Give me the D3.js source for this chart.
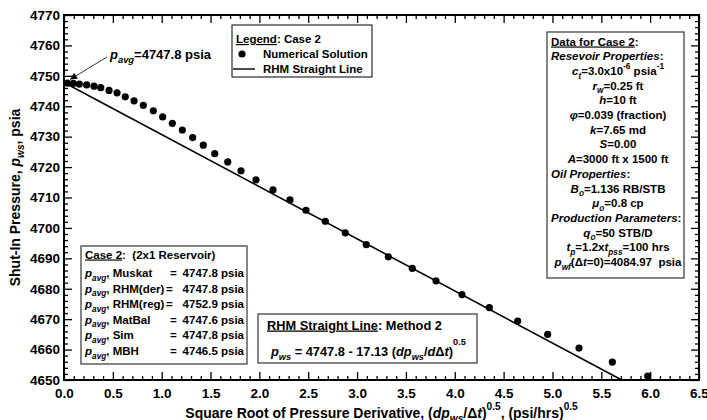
<!DOCTYPE html>
<html>
<head>
<meta charset="utf-8">
<script src="https://cdn.jsdelivr.net/npm/d3@7"></script>
<style>
  html, body { margin: 0; padding: 0; background: #fff; }
  svg { display: block; font-family: "Liberation Sans", Arial, Helvetica, sans-serif; font-weight: bold; }
</style>
</head>
<body>
<svg id="chart" width="707" height="420"></svg>
<script>
// Numerical solution: square root of pressure derivative vs shut-in pressure
const rootDerivative = [0.034, 0.095, 0.157, 0.232, 0.307, 0.376, 0.461, 0.543, 0.627, 0.717,
  0.812, 0.914, 1.010, 1.109, 1.211, 1.317, 1.426, 1.543, 1.676, 1.812, 1.965, 2.139, 2.313,
  2.477, 2.675, 2.879, 3.094, 3.320, 3.565, 3.808, 4.074, 4.354, 4.644, 4.951, 5.272, 5.613, 5.975];
const shutInPressure = [4747.6, 4747.5, 4747.3, 4747.0, 4746.6, 4746.1, 4745.2, 4744.4, 4743.1, 4741.8,
  4740.3, 4738.5, 4736.5, 4734.4, 4732.2, 4729.7, 4727.2, 4724.4, 4721.7, 4718.8, 4715.8, 4712.5, 4709.2,
  4705.8, 4702.2, 4698.4, 4694.5, 4690.5, 4686.7, 4682.6, 4678.1, 4673.8, 4669.4, 4665.0, 4660.5, 4655.9, 4651.3];

// RHM straight line: p_ws = intercept - slope * x
const lineIntercept = 4747.8;
const lineSlope = 17.13;

// Axis ranges and tick values
const xDomain = [0, 6.5];
const yDomain = [4650, 4770];
const xMajorTicks = [0.0, 0.5, 1.0, 1.5, 2.0, 2.5, 3.0, 3.5, 4.0, 4.5, 5.0, 5.5, 6.0, 6.5];
const yMajorTicks = [4650, 4660, 4670, 4680, 4690, 4700, 4710, 4720, 4730, 4740, 4750, 4760, 4770];

// Average pressure estimates for the summary box
const pavgMethods = ["Muskat", "RHM(der)", "RHM(reg)", "MatBal", "Sim", "MBH"];
const pavgValues = [4747.8, 4747.8, 4752.9, 4747.6, 4747.8, 4746.5];

// Case description lines (markup: *italic*, _{sub}, ^{sup}, ~underline~, #left-aligned heading)
const caseDataLines = [
  "#~Data for Case 2~:",
  "#*Resevoir Properties*:",
  "*c*_{t}=3.0x10^{-6} psia^{-1}",
  "*r*_{w}=0.25 ft",
  "*h*=10 ft",
  "*\u03c6*=0.039 (fraction)",
  "*k*=7.65 md",
  "*S*=0.00",
  "*A*=3000 ft x 1500 ft",
  "#*Oil Properties*:",
  "*B*_{o}=1.136 RB/STB",
  "*\u03bc*_{o}=0.8 cp",
  "#*Production Parameters*:",
  "*q*_{o}=50 STB/D",
  "*t*_{p}=1.2x*t*_{pss}=100 hrs",
  "*p*_{wf}(\u0394*t*=0)=4084.97\u00a0 psia"
];

const W = 707, H = 420;
const margin = { left: 64, right: 8, top: 15, bottom: 40 };
const pw = W - margin.left - margin.right;
const ph = H - margin.top - margin.bottom;

const svg = d3.select("#chart");
const g = svg.append("g").attr("transform", `translate(${margin.left},${margin.top})`);

const x = d3.scaleLinear().domain(xDomain).range([0, pw]);
const y = d3.scaleLinear().domain(yDomain).range([ph, 0]);

// Rich text helper: parses the small markup into tspans
function rich(textSel, str, size, supRise = 0.48) {
  const re = /(\*[^*]+\*|_\{[^}]+\}|\^\{[^}]+\}|~[^~]+~)/g;
  const parts = str.split(re).filter(s => s.length);
  let off = 0;
  parts.forEach(p => {
    let t = p, italic = false, sub = false, sup = false, under = false;
    if (p.startsWith("*")) { t = p.slice(1, -1); italic = true; }
    else if (p.startsWith("_{")) { t = p.slice(2, -1); sub = true; italic = true; }
    else if (p.startsWith("^{")) { t = p.slice(2, -1); sup = true; }
    else if (p.startsWith("~")) { t = p.slice(1, -1); under = true; }
    const target = sub ? size * 0.32 : sup ? -size * supRise : 0;
    const ts = textSel.append("tspan")
      .attr("dy", (target - off).toFixed(2))
      .style("font-size", ((sub || sup) ? size * 0.72 : size) + "px")
      .text(t);
    if (italic) ts.style("font-style", "italic");
    if (under) ts.style("text-decoration", "underline");
    off = target;
  });
  return textSel;
}

// Minor and major ticks on all four sides, pointing inward
const xMinor = d3.range(0, 65.5, 1).map(v => v / 10).filter(v => !xMajorTicks.some(m => Math.abs(m - v) < 1e-9));
const yMinor = d3.range(4650, 4771, 2).filter(v => v % 10 !== 0);

function styleAxis(sel) {
  sel.select(".domain").remove();
  sel.selectAll(".tick line").attr("stroke", "#000").attr("stroke-width", 1.3);
  sel.selectAll(".tick text").style("font-size", "13.5px").style("font-weight", "bold").attr("fill", "#000");
}

g.append("g").attr("transform", `translate(0,${ph})`)
  .call(d3.axisBottom(x).tickValues(xMinor).tickSizeInner(-4).tickSizeOuter(0).tickFormat(""))
  .call(styleAxis);
g.append("g").attr("transform", `translate(0,${ph})`)
  .call(d3.axisBottom(x).tickValues(xMajorTicks).tickSizeInner(-8).tickSizeOuter(0).tickPadding(8).tickFormat(d3.format(".1f")))
  .call(styleAxis);
g.append("g")
  .call(d3.axisTop(x).tickValues(xMinor).tickSizeInner(-4).tickSizeOuter(0).tickFormat(""))
  .call(styleAxis);
g.append("g")
  .call(d3.axisTop(x).tickValues(xMajorTicks).tickSizeInner(-8).tickSizeOuter(0).tickFormat(""))
  .call(styleAxis);
g.append("g")
  .call(d3.axisLeft(y).tickValues(yMinor).tickSizeInner(-4).tickSizeOuter(0).tickFormat(""))
  .call(styleAxis);
g.append("g")
  .call(d3.axisLeft(y).tickValues(yMajorTicks).tickSizeInner(-8).tickSizeOuter(0).tickPadding(4).tickFormat(d3.format("d")))
  .call(styleAxis);
g.append("g").attr("transform", `translate(${pw},0)`)
  .call(d3.axisRight(y).tickValues(yMinor).tickSizeInner(-4).tickSizeOuter(0).tickFormat(""))
  .call(styleAxis);
g.append("g").attr("transform", `translate(${pw},0)`)
  .call(d3.axisRight(y).tickValues(yMajorTicks).tickSizeInner(-8).tickSizeOuter(0).tickFormat(""))
  .call(styleAxis);

// Plot frame
g.append("rect").attr("x", 0).attr("y", 0).attr("width", pw).attr("height", ph)
  .attr("fill", "none").attr("stroke", "#000").attr("stroke-width", 2);

// RHM straight line, from x = 0 down to the bottom of the pressure axis
const xEnd = (lineIntercept - yDomain[0]) / lineSlope;
const linePts = [0, xEnd].map(v => [v, lineIntercept - lineSlope * v]);
g.append("path")
  .datum(linePts)
  .attr("fill", "none").attr("stroke", "#000").attr("stroke-width", 1.6)
  .attr("d", d3.line().x(d => x(d[0])).y(d => y(d[1])));

// Numerical solution points
g.append("g").selectAll("circle")
  .data(rootDerivative.map((v, i) => [v, shutInPressure[i]]))
  .join("circle")
  .attr("cx", d => x(d[0])).attr("cy", d => y(d[1])).attr("r", 3.6).attr("fill", "#000");

// Arrow annotation for the average pressure
svg.append("defs").append("marker")
  .attr("id", "arrowhead").attr("viewBox", "0 0 10 10").attr("refX", 10).attr("refY", 5)
  .attr("markerWidth", 9).attr("markerHeight", 7).attr("markerUnits", "userSpaceOnUse")
  .attr("orient", "auto")
  .append("path").attr("d", "M0,0 L10,5 L0,10 Z").attr("fill", "#000");
g.append("line")
  .attr("x1", 43).attr("y1", 42)
  .attr("x2", x(0) + 6).attr("y2", y(lineIntercept) - 3)
  .attr("stroke", "#000").attr("stroke-width", 0.8)
  .attr("marker-end", "url(#arrowhead)");
rich(g.append("text").attr("x", 46).attr("y", 44), `*p*_{avg}=${lineIntercept.toFixed(1)} psia`, 13);

// Legend box
const lg = svg.append("g").attr("transform", "translate(232,25)");
lg.append("rect").attr("width", 140).attr("height", 52).attr("fill", "#fff").attr("stroke", "#000").attr("stroke-width", 1);
rich(lg.append("text").attr("x", 4).attr("y", 18), "~Legend~: Case 2", 11.5);
lg.append("circle").attr("cx", 10).attr("cy", 29).attr("r", 3.6).attr("fill", "#000");
lg.append("text").attr("x", 31).attr("y", 33).style("font-size", "11.5px").text("Numerical Solution");
lg.append("line").attr("x1", 1).attr("x2", 23).attr("y1", 44).attr("y2", 44).attr("stroke", "#000").attr("stroke-width", 1.4);
lg.append("text").attr("x", 31).attr("y", 48).style("font-size", "11.5px").text("RHM Straight Line");

// Case data box
const db = svg.append("g").attr("transform", "translate(547,32)");
db.append("rect").attr("width", 137).attr("height", 246).attr("fill", "#fff").attr("stroke", "#444").attr("stroke-width", 1.3);
caseDataLines.forEach((line, i) => {
  const left = line.startsWith("#");
  const t = db.append("text")
    .attr("x", left ? 4 : 71)
    .attr("y", 13.5 + i * 14.7)
    .attr("text-anchor", left ? "start" : "middle");
  rich(t, left ? line.slice(1) : line, 11.5);
});

// Average pressure summary box
const cb = svg.append("g").attr("transform", "translate(81,246)");
cb.append("rect").attr("width", 166).attr("height", 118).attr("fill", "#fff").attr("stroke", "#444").attr("stroke-width", 1.3);
rich(cb.append("text").attr("x", 4).attr("y", 12.5), "~Case 2~:\u00a0 (2x1 Reservoir)", 11.5);
pavgMethods.forEach((m, i) => {
  const yy = 31 + i * 15.6;
  rich(cb.append("text").attr("x", 4).attr("y", yy), `*p*_{avg}, ${m}`, 11.5);
  cb.append("text").attr("x", m.startsWith("RHM") ? 85 : 89).attr("y", yy).style("font-size", "11.5px").text("=");
  cb.append("text").attr("x", 163).attr("y", yy).attr("text-anchor", "end").style("font-size", "11.5px")
    .text(`${pavgValues[i].toFixed(1)} psia`);
});

// Straight-line equation box
const eb = svg.append("g").attr("transform", "translate(258,314)");
eb.append("rect").attr("width", 219).attr("height", 49).attr("fill", "#fff").attr("stroke", "#444").attr("stroke-width", 1.3);
rich(eb.append("text").attr("x", 9).attr("y", 15.5), "~RHM Straight Line~: Method 2", 12.8);
rich(eb.append("text").attr("x", 13).attr("y", 41.5),
  `*p*_{ws} = ${lineIntercept.toFixed(1)} - ${lineSlope.toFixed(2)} (*dp*_{ws}/*d*\u0394*t*)^{0.5}`, 12.8, 0.8);

// Axis titles
rich(svg.append("text").attr("text-anchor", "middle")
  .attr("transform", `translate(20,${margin.top + ph / 2}) rotate(-90)`),
  "Shut-In Pressure, *p*_{ws}, psia", 14);
rich(svg.append("text").attr("text-anchor", "middle")
  .attr("x", margin.left + pw / 2).attr("y", 418),
  "Square Root of Pressure Derivative, (*dp*_{ws}/\u0394*t*)^{0.5}, (psi/hrs)^{0.5}", 14, 0.6);
</script>
</body>
</html>
